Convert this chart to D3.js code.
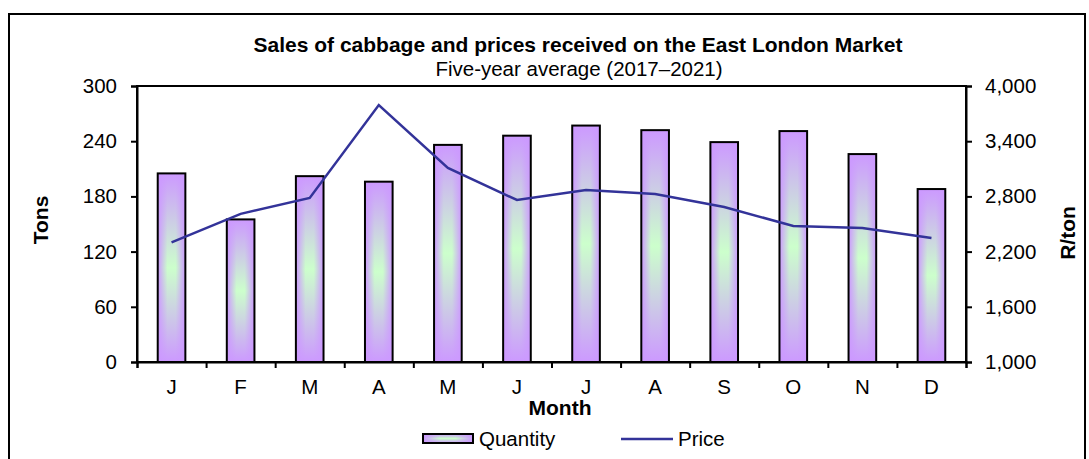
<!DOCTYPE html>
<html><head><meta charset="utf-8">
<script src="https://cdn.jsdelivr.net/npm/d3@7"></script>
<style>body{margin:0;background:#fff;}svg{display:block;font-family:"Liberation Sans",Arial,sans-serif;}</style>
</head><body>
<script>
const months = ["J","F","M","A","M","J","J","A","S","O","N","D"];
const quantity = [205,155,202,196,236,246,257,252,239,251,226,188];
const price = [2300,2610,2783,3793,3109,2761,2870,2826,2685,2478,2457,2348];
const leftTicks = [0,60,120,180,240,300];
const rightTicks = [1000,1600,2200,2800,3400,4000];

const W=1089,H=459;
const m={l:137,r:966,t:86,b:362};
const svg=d3.select("body").append("svg").attr("width",W).attr("height",H);
const defs=svg.append("defs");
const vg=defs.append("linearGradient").attr("id","vg").attr("x1",0).attr("x2",0).attr("y1",0).attr("y2",1);
vg.append("stop").attr("offset","0%").attr("stop-color","#cc99ff");
vg.append("stop").attr("offset","50%").attr("stop-color","#ccffcc");
vg.append("stop").attr("offset","100%").attr("stop-color","#cc99ff");
const hg=defs.append("linearGradient").attr("id","hg").attr("x1",0).attr("x2",1).attr("y1",0).attr("y2",0);
hg.append("stop").attr("offset","0%").attr("stop-color","#cc99ff").attr("stop-opacity",1);
hg.append("stop").attr("offset","35%").attr("stop-color","#cc99ff").attr("stop-opacity",0);
hg.append("stop").attr("offset","65%").attr("stop-color","#cc99ff").attr("stop-opacity",0);
hg.append("stop").attr("offset","100%").attr("stop-color","#cc99ff").attr("stop-opacity",1);

svg.append("rect").attr("x",9).attr("y",14).attr("width",1076).attr("height",460)
  .attr("fill","none").attr("stroke","#000").attr("stroke-width",2);

const x=d3.scaleBand().domain(d3.range(12)).range([m.l,m.r]).paddingInner(0.6).paddingOuter(0.3);
const xb=d3.scaleLinear().domain([0,12]).range([m.l,m.r]);
const yL=d3.scaleLinear().domain([0,300]).range([m.b,m.t]);
const yR=d3.scaleLinear().domain([1000,4000]).range([m.b,m.t]);

// bars
const bars=svg.append("g");
quantity.forEach((v,i)=>{
  const bx=x(i), bw=x.bandwidth(), by=yL(v), bh=yL(0)-yL(v);
  bars.append("rect").attr("x",bx).attr("y",by).attr("width",bw).attr("height",bh).attr("fill","url(#vg)");
  bars.append("rect").attr("x",bx).attr("y",by).attr("width",bw).attr("height",bh).attr("fill","url(#hg)");
  bars.append("rect").attr("x",bx).attr("y",by).attr("width",bw).attr("height",bh).attr("fill","none").attr("stroke","#000").attr("stroke-width",2);
});

// frame
svg.append("rect").attr("x",m.l).attr("y",m.t).attr("width",m.r-m.l).attr("height",m.b-m.t)
  .attr("fill","none").attr("stroke","#000").attr("stroke-width",2);

// line
const xc=i=>x(i)+x.bandwidth()/2;
svg.append("path").datum(price).attr("fill","none").attr("stroke","#333399").attr("stroke-width",2.5)
  .attr("d",d3.line().x((d,i)=>xc(i)).y(d=>yR(d)));

// axes
const fs="20.5px";
const ga=svg.append("g").attr("transform",`translate(${m.l},0)`).call(d3.axisLeft(yL).tickValues(leftTicks).tickSize(6).tickPadding(14));
const gb=svg.append("g").attr("transform",`translate(${m.r},0)`).call(d3.axisRight(yR).tickValues(rightTicks).tickSize(6).tickPadding(13).tickFormat(d3.format(",")));
const gx=svg.append("g").attr("transform",`translate(0,${m.b})`).call(d3.axisBottom(xb).tickValues(d3.range(13)).tickSize(6).tickFormat(""));
[ga,gb,gx].forEach(g=>{g.select(".domain").attr("stroke","#000").attr("stroke-width",2);
  g.selectAll(".tick line").attr("stroke","#000").attr("stroke-width",2);
  g.selectAll("text").attr("font-size",fs).attr("fill","#000").attr("font-family","Liberation Sans, Arial, sans-serif");});
svg.append("g").selectAll("text").data(months).join("text")
  .attr("x",(d,i)=>xc(i)).attr("y",394).attr("text-anchor","middle").attr("font-size",fs).text(d=>d);

// titles
svg.append("text").attr("x",578).attr("y",52).attr("text-anchor","middle").attr("font-size","21px").attr("font-weight","bold").text("Sales of cabbage and prices received on the East London Market");
svg.append("text").attr("x",579).attr("y",76).attr("text-anchor","middle").attr("font-size",fs).text("Five-year average (2017–2021)");
svg.append("text").attr("transform","translate(48,220) rotate(-90)").attr("text-anchor","middle").attr("font-size","21px").attr("font-weight","bold").text("Tons");
svg.append("text").attr("transform","translate(1075,233) rotate(-90)").attr("text-anchor","middle").attr("font-size","21px").attr("font-weight","bold").text("R/ton");
svg.append("text").attr("x",560).attr("y",415).attr("text-anchor","middle").attr("font-size","21px").attr("font-weight","bold").text("Month");

// legend
const lg=svg.append("g");
lg.append("rect").attr("x",423).attr("y",434).attr("width",50).attr("height",9).attr("fill","url(#vg)");
lg.append("rect").attr("x",423).attr("y",434).attr("width",50).attr("height",9).attr("fill","url(#hg)");
lg.append("rect").attr("x",423).attr("y",434).attr("width",50).attr("height",9).attr("fill","none").attr("stroke","#000").attr("stroke-width",2);
lg.append("text").attr("x",479).attr("y",446).attr("font-size",fs).text("Quantity");
lg.append("line").attr("x1",621).attr("x2",673).attr("y1",439).attr("y2",439).attr("stroke","#333399").attr("stroke-width",2.5);
lg.append("text").attr("x",678).attr("y",446).attr("font-size",fs).text("Price");
</script>
</body></html>
